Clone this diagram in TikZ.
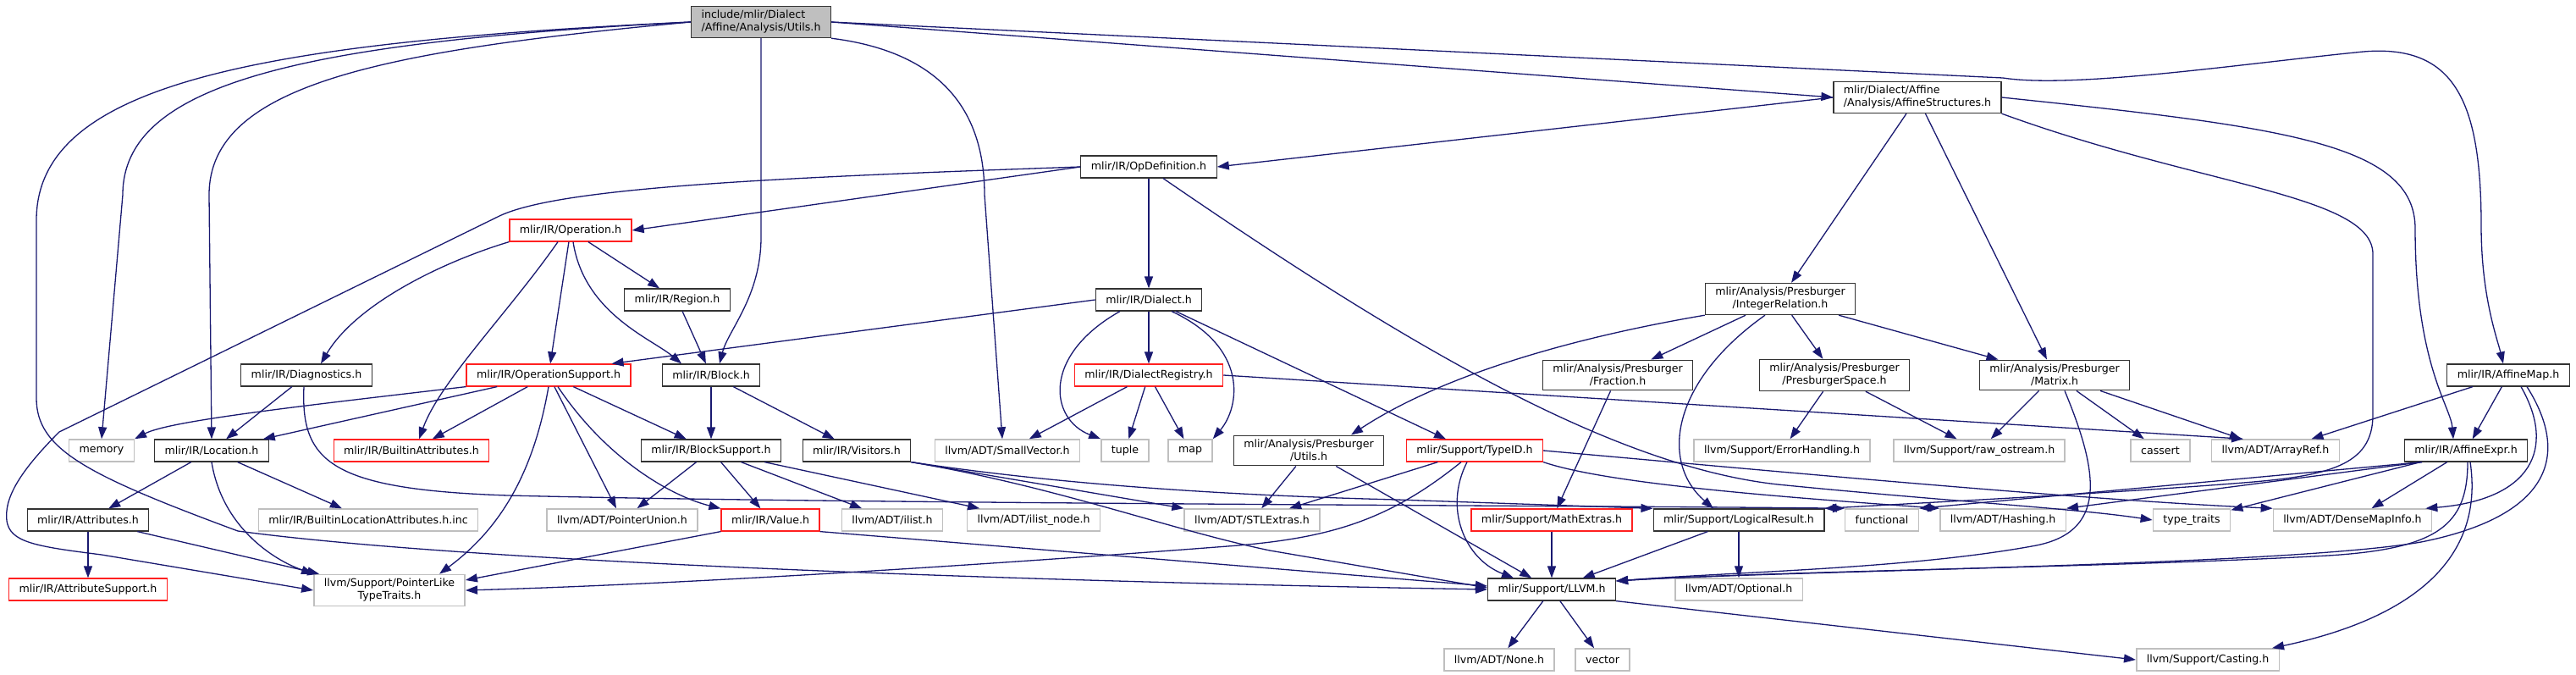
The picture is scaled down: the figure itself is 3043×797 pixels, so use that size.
\documentclass[tikz,border=0pt]{standalone}
\usepackage{fontspec}
\setmainfont{DejaVu Sans}
\usetikzlibrary{arrows.meta}
\definecolor{edgeblue}{HTML}{191970}
\definecolor{truncred}{HTML}{FF2020}
\definecolor{sysgray}{HTML}{BFBFBF}
\tikzset{
  hdr/.style={draw=black!80, line width=1.2pt, fill=white, inner xsep=12pt, inner ysep=5pt,
    minimum height=26pt, font=\fontsize{12.6}{15}\selectfont},
  ext/.style={hdr, draw=sysgray, line width=1.5pt},
  trunc/.style={hdr, draw=truncred},
  cur/.style={hdr, fill=sysgray, align=left},
  dep/.style={draw=edgeblue, line width=1.3pt, -{Triangle[length=14pt,width=10pt]}},
}
\begin{document}
\begin{tikzpicture}[x=1pt,y=-1pt]
\fill[white] (0,0) rectangle (3043,797);
\useasboundingbox (0,0) rectangle (3043,797);
% rank 0 to 4
\node[cur] (utils) at (899,26) {include/mlir/Dialect\\/Affine/Analysis/Utils.h};
\node[hdr,align=left] (affstruct) at (2265,115) {mlir/Dialect/Affine\\/Analysis/AffineStructures.h};
\node[hdr] (opdef) at (1357,197) {mlir/IR/OpDefinition.h};
\node[trunc] (operation) at (674,272) {mlir/IR/Operation.h};
\node[hdr] (region) at (800,354) {mlir/IR/Region.h};
\node[hdr] (dialect) at (1357,354) {mlir/IR/Dialect.h};
\node[hdr,align=center] (intrel) at (2103,353) {mlir/Analysis/Presburger\\/IntegerRelation.h};
% rank 5
\node[hdr] (diagnostics) at (362,443) {mlir/IR/Diagnostics.h};
\node[trunc] (opsupport) at (648,443) {mlir/IR/OperationSupport.h};
\node[hdr] (block) at (840,443) {mlir/IR/Block.h};
\node[trunc] (registry) at (1357,443) {mlir/IR/DialectRegistry.h};
\node[hdr,align=center] (fraction) at (1911,443) {mlir/Analysis/Presburger\\/Fraction.h};
\node[hdr,align=center] (pspace) at (2167,443) {mlir/Analysis/Presburger\\/PresburgerSpace.h};
\node[hdr,align=center] (matrix) at (2427,443) {mlir/Analysis/Presburger\\/Matrix.h};
\node[hdr] (affmap) at (2963,443) {mlir/IR/AffineMap.h};
% rank 6
\node[ext] (memory) at (120,532) {memory};
\node[hdr] (location) at (250,532) {mlir/IR/Location.h};
\node[trunc] (builtinattr) at (486,532) {mlir/IR/BuiltinAttributes.h};
\node[hdr] (blocksupport) at (840,532) {mlir/IR/BlockSupport.h};
\node[hdr] (visitors) at (1012,532) {mlir/IR/Visitors.h};
\node[ext] (smallvec) at (1190,532) {llvm/ADT/SmallVector.h};
\node[ext] (tuple) at (1329,532) {tuple};
\node[ext] (map) at (1406,532) {map};
\node[hdr,align=center] (putils) at (1546,532) {mlir/Analysis/Presburger\\/Utils.h};
\node[trunc] (typeid) at (1742,532) {mlir/Support/TypeID.h};
\node[ext] (errhandling) at (2105,532) {llvm/Support/ErrorHandling.h};
\node[ext] (rawostream) at (2338,532) {llvm/Support/raw\_ostream.h};
\node[ext] (cassert) at (2552,532) {cassert};
\node[ext] (arrayref) at (2688,532) {llvm/ADT/ArrayRef.h};
\node[hdr] (affexpr) at (2913,532) {mlir/IR/AffineExpr.h};
% rank 7
\node[hdr] (attributes) at (104,614) {mlir/IR/Attributes.h};
\node[ext] (builtinloc) at (435,614) {mlir/IR/BuiltinLocationAttributes.h.inc};
\node[ext] (ptrunion) at (735,614) {llvm/ADT/PointerUnion.h};
\node[trunc] (value) at (910,614) {mlir/IR/Value.h};
\node[ext] (ilist) at (1054,614) {llvm/ADT/ilist.h};
\node[ext] (ilistnode) at (1221,614) {llvm/ADT/ilist\_node.h};
\node[ext] (stlextras) at (1479,614) {llvm/ADT/STLExtras.h};
\node[trunc] (mathextras) at (1833,614) {mlir/Support/MathExtras.h};
\node[hdr] (logicalresult) at (2054,614) {mlir/Support/LogicalResult.h};
\node[ext] (functional) at (2223,614) {functional};
\node[ext] (hashing) at (2366,614) {llvm/ADT/Hashing.h};
\node[ext] (typetraits) at (2589,614) {type\_traits};
\node[ext] (densemapinfo) at (2779,614) {llvm/ADT/DenseMapInfo.h};
% rank 8 and 9
\node[trunc] (attrsupport) at (104,696) {mlir/IR/AttributeSupport.h};
\node[ext,align=center] (ptrlike) at (460,697) {llvm/Support/PointerLike\\TypeTraits.h};
\node[hdr] (llvmh) at (1833,696) {mlir/Support/LLVM.h};
\node[ext] (optional) at (2054,696) {llvm/ADT/Optional.h};
\node[ext] (none) at (1771,779) {llvm/ADT/None.h};
\node[ext] (vector) at (1893,779) {vector};
\node[ext] (casting) at (2608,779) {llvm/Support/Casting.h};

% Utils.h
\draw[dep] (utils.west) .. controls (300,50) and (43,100) .. (43,260) -- (43,470) .. controls (43,530) and (100,560) .. (281,627) .. controls (600,670) and (1400,690) .. (llvmh.west);
\draw[dep] (utils.west) .. controls (350,50) and (145,100) .. (145,230) -- (memory.north);
\draw[dep] (utils.west) .. controls (450,60) and (247,100) .. (247,230) -- (location.north);
\draw[dep] (utils.south) -- (899,280) .. controls (899,350) and (860,390) .. ([xshift=10pt]block.north);
\draw[dep] (utils.south east) .. controls (1100,60) and (1163,120) .. (1163,230) -- ([xshift=-6pt]smallvec.north);
\draw[dep] (utils.east) -- (affstruct.west);
\draw[dep] (utils.east) -- (2366,92) .. controls (2450,105) and (2650,75) .. (2792,61) .. controls (2900,52) and (2931,120) .. (2931,267) .. controls (2931,350) and (2950,400) .. ([xshift=-6pt]affmap.north);
% AffineStructures.h
\draw[dep] (affstruct.west) -- (opdef.east);
\draw[dep] (affstruct) -- (intrel);
\draw[dep] (affstruct) -- (matrix);
\draw[dep] (affstruct.east) .. controls (2700,150) and (2853,170) .. (2853,270) .. controls (2853,430) and (2895,480) .. ([xshift=-15pt]affexpr.north);
\draw[dep] (affstruct.south east) .. controls (2600,220) and (2803,230) .. (2803,300) -- (2803,490) .. controls (2803,550) and (2750,562) .. (2650,570) .. controls (2500,582) and (2300,592) .. (logicalresult.north east);
% OpDefinition.h
\draw[dep] (opdef.west) -- (operation.east);
\draw[dep] (opdef) -- (dialect);
\draw[dep] (opdef.west) .. controls (900,210) and (660,222) .. (590,255) -- (70,510) .. controls (20,560) and (5,590) .. (8,615) .. controls (12,640) and (40,645) .. (120,655) -- (ptrlike.west);
\draw[dep] ([xshift=17pt]opdef.south) .. controls (1650,400) and (1900,550) .. (2100,572) .. controls (2300,592) and (2450,600) .. (typetraits.west);
% Operation.h
\draw[dep] (operation) -- (region);
\draw[dep] (operation.south west) .. controls (520,310) and (420,360) .. ([xshift=17pt]diagnostics.north);
\draw[dep] ([xshift=-15pt]operation.south) .. controls (600,370) and (520,450) .. ([xshift=9pt]builtinattr.north);
\draw[dep] (operation) -- (opsupport);
\draw[dep] ([xshift=3pt]operation.south) .. controls (690,370) and (770,400) .. ([xshift=-35pt]block.north);
\draw[dep] (region) -- (block);
% Dialect.h
\draw[dep] (dialect.west) -- ([xshift=-23pt]opsupport.north east);
\draw[dep] ([xshift=-34pt]dialect.south) .. controls (1230,420) and (1240,495) .. (tuple.north west);
\draw[dep] (dialect) -- (registry);
\draw[dep] ([xshift=27pt]dialect.south) .. controls (1475,410) and (1465,480) .. (map.north east);
\draw[dep] ([xshift=32pt]dialect.south) -- ([xshift=-34pt]typeid.north);
% DialectRegistry.h
\draw[dep] (registry) -- (smallvec);
\draw[dep] (registry) -- (tuple);
\draw[dep] (registry) -- (map);
\draw[dep] (registry.east) -- ([xshift=-38pt]arrayref.north);
% IntegerRelation.h
\draw[dep] (intrel.south west) .. controls (1850,400) and (1700,445) .. ([xshift=50pt]putils.north);
\draw[dep] (intrel) -- (fraction);
\draw[dep] ([xshift=-18pt]intrel.south) .. controls (1975,450) and (1960,545) .. ([xshift=-30pt]logicalresult.north);
\draw[dep] (intrel) -- (pspace);
\draw[dep] (intrel) -- (matrix);
% Fraction.h, PresburgerSpace.h, Matrix.h
\draw[dep] (fraction) -- (mathextras);
\draw[dep] (pspace) -- (errhandling);
\draw[dep] (pspace) -- (rawostream);
\draw[dep] (matrix) -- (rawostream);
\draw[dep] (matrix) -- (cassert);
\draw[dep] (matrix) -- (arrayref);
\draw[dep] ([xshift=12pt]matrix.south) .. controls (2480,560) and (2490,630) .. (2400,645) .. controls (2250,672) and (2050,675) .. ([yshift=10pt]llvmh.east);
% AffineMap.h
\draw[dep] (affmap) -- (arrayref);
\draw[dep] (affmap) -- (affexpr);
\draw[dep] ([xshift=15pt]affmap.south) .. controls (3020,530) and (2990,590) .. ([xshift=-8pt]densemapinfo.north east);
\draw[dep] ([xshift=22pt]affmap.south) .. controls (3038,540) and (3010,610) .. (2860,640) .. controls (2700,668) and (2100,674) .. ([yshift=10pt]llvmh.east);
% AffineExpr.h
\draw[dep] (affexpr) -- (densemapinfo);
\draw[dep] (affexpr) -- (typetraits);
\draw[dep] ([xshift=-52pt]affexpr.south) -- (hashing.north east);
\draw[dep] ([xshift=-52pt]affexpr.south) -- (functional.north east);
\draw[dep] ([xshift=2pt]affexpr.south) .. controls (2915,620) and (2880,648) .. (2750,656) .. controls (2500,670) and (2100,674) .. ([yshift=10pt]llvmh.east);
\draw[dep] ([xshift=5pt]affexpr.south) .. controls (2935,660) and (2850,730) .. ([xshift=-9pt]casting.north east);
% Diagnostics.h
\draw[dep] (diagnostics) -- (location);
\draw[dep] ([xshift=-3pt]diagnostics.south) .. controls (355,545) and (390,578) .. (600,585) .. controls (1000,595) and (1900,597) .. (functional.north west);
% OperationSupport.h
\draw[dep] (opsupport.south west) .. controls (350,480) and (200,497) .. (memory.north east);
\draw[dep] (opsupport) -- (location);
\draw[dep] (opsupport) -- (builtinattr);
\draw[dep] (opsupport) -- (blocksupport);
\draw[dep] (opsupport) -- (ptrunion);
\draw[dep] ([xshift=11pt]opsupport.south) .. controls (715,540) and (790,585) .. (value.north west);
\draw[dep] (opsupport.south) .. controls (630,560) and (590,625) .. ([xshift=59pt]ptrlike.north);
% Block.h, BlockSupport.h
\draw[dep] (block) -- (blocksupport);
\draw[dep] (block) -- (visitors);
\draw[dep] (blocksupport) -- (ptrunion);
\draw[dep] (blocksupport) -- (value);
\draw[dep] (blocksupport) -- (ilist);
\draw[dep] (blocksupport) -- (ilistnode);
% Visitors.h
\draw[dep] (visitors.south east) -- (stlextras.north west);
\draw[dep] (visitors.south east) .. controls (1250,575) and (1380,625) .. (1500,650) -- ([yshift=2pt]llvmh.west);
\draw[dep] (visitors.south east) .. controls (1250,572) and (1450,585) .. (1650,590) -- (logicalresult.north west);
% Location.h, Attributes.h, Value.h
\draw[dep] (location) -- (attributes);
\draw[dep] (location) -- (builtinloc);
\draw[dep] (location.south) .. controls (262,620) and (320,660) .. (ptrlike.north west);
\draw[dep] (attributes) -- (attrsupport);
\draw[dep] (attributes) -- (ptrlike);
\draw[dep] (value.south west) -- ([yshift=12pt]ptrlike.east);
\draw[dep] (value.south east) -- ([yshift=4pt]llvmh.west);
% Presburger/Utils.h, TypeID.h
\draw[dep] (putils) -- (stlextras);
\draw[dep] (putils) -- (llvmh);
\draw[dep] (typeid) -- (stlextras);
\draw[dep] ([xshift=-9pt]typeid.south) .. controls (1705,600) and (1730,660) .. ([xshift=-45pt]llvmh.north);
\draw[dep] ([xshift=-16pt]typeid.south) .. controls (1640,615) and (1570,636) .. (1450,645) .. controls (1150,668) and (800,690) .. (ptrlike.east);
\draw[dep] (typeid.south east) .. controls (1900,572) and (2120,588) .. (hashing.north west);
\draw[dep] (typeid.east) .. controls (2050,552) and (2450,590) .. (densemapinfo.north west);
% MathExtras.h, LogicalResult.h, LLVM.h
\draw[dep] (mathextras) -- (llvmh);
\draw[dep] (logicalresult) -- (llvmh);
\draw[dep] (logicalresult) -- (optional);
\draw[dep] (llvmh) -- (none);
\draw[dep] (llvmh) -- (vector);
\draw[dep] (llvmh.south east) -- (casting.west);
\end{tikzpicture}
\end{document}
